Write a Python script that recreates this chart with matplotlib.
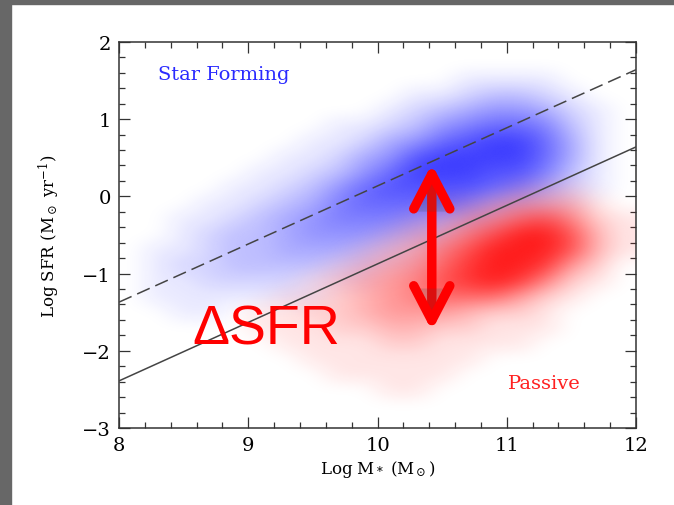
import numpy as np
import matplotlib.pyplot as plt
import matplotlib.patheffects as pe
from matplotlib.colors import to_rgb
from matplotlib.patches import Rectangle
from matplotlib.ticker import MultipleLocator

# cell centres of the point-density maps
mass_bins = [8.1, 8.3, 8.5, 8.7, 8.9, 9.1, 9.3, 9.5, 9.7, 9.9,
             10.1, 10.3, 10.5, 10.7, 10.9, 11.1, 11.3, 11.5, 11.7, 11.9]
sfr_bins = [1.9, 1.7, 1.5, 1.3, 1.1, 0.9, 0.7, 0.5, 0.3, 0.1,
            -0.1, -0.3, -0.5, -0.7, -0.9, -1.1, -1.3, -1.5, -1.7, -1.9,
            -2.1, -2.3, -2.5, -2.7, -2.9]

# relative point density 0 (empty) .. 9 (densest); one string per sfr row, one digit per mass bin
star_forming_density = [
    "00000000000000000000",
    "00000000000000000000",
    "00000000000001111000",
    "00000000000112332100",
    "00000000001234554210",
    "00000000112356776310",
    "00000001124578997410",
    "00000011245899997410",
    "00000112357999886310",
    "00001123578888764210",
    "00011234677776432100",
    "00112345666543211000",
    "00123345554321100000",
    "01123344432110000000",
    "01223333221100000000",
    "01122221110000000000",
    "01111111000000000000",
    "00110000000000000000",
    "00000000000000000000",
    "00000000000000000000",
    "00000000000000000000",
    "00000000000000000000",
    "00000000000000000000",
    "00000000000000000000",
    "00000000000000000000",
]
passive_density = [
    "00000000000000000000",
    "00000000000000000000",
    "00000000000000000000",
    "00000000000000000000",
    "00000000000000000000",
    "00000000000000000000",
    "00000000000000000000",
    "00000000000000000000",
    "00000000000000000000",
    "00000000000000011100",
    "00000000000011233310",
    "00000000000113467521",
    "00000000001235799731",
    "00000000012357999731",
    "00000000123468998420",
    "00000001234578985210",
    "00000011234566642100",
    "00000112234443221000",
    "00000111223322111000",
    "00000011112211110000",
    "00000001111111000000",
    "00000000111110000000",
    "00000000001100000000",
    "00000000000000000000",
    "00000000000000000000",
]

# reference lines, values at log M* = 8 and 12
line_mass = [8.0, 12.0]
main_sequence = [-1.37, 1.64]
sf_cut = [-2.39, 0.64]

# Delta SFR arrow
arrow_mass = 10.42
arrow_sfr = [0.42, -1.74]


def density_image(rows, color, max_alpha):
    d = np.array([[int(c) for c in r] for r in rows], dtype=float) / 9.0
    img = np.zeros(d.shape + (4,))
    img[..., :3] = to_rgb(color)
    img[..., 3] = d * max_alpha
    return img


plt.rcParams["font.family"] = ["DejaVu Serif"]
plt.rcParams["mathtext.fontset"] = "dejavuserif"

fig = plt.figure(figsize=(6.74, 5.06), dpi=100)
fig.patches.append(Rectangle((0, 0.99), 1, 0.02, transform=fig.transFigure,
                             color="#676767", zorder=0))
fig.patches.append(Rectangle((0, 0), 0.0165, 1, transform=fig.transFigure,
                             color="#676767", zorder=0))

ax = fig.add_axes([0.1766, 0.1522, 0.767, 0.763])

half_x = (mass_bins[1] - mass_bins[0]) / 2
half_y = (sfr_bins[0] - sfr_bins[1]) / 2
extent = [mass_bins[0] - half_x, mass_bins[-1] + half_x,
          sfr_bins[-1] - half_y, sfr_bins[0] + half_y]

ax.imshow(density_image(star_forming_density, "#1414ff", 0.82), extent=extent,
          origin="upper", aspect="auto", interpolation="bicubic", zorder=1)
ax.imshow(density_image(passive_density, "#ff1010", 0.95), extent=extent,
          origin="upper", aspect="auto", interpolation="bicubic", zorder=2)

ax.plot(line_mass, main_sequence, color="#444444", lw=1.1, ls=(0, (9, 4)), zorder=3)
ax.plot(line_mass, sf_cut, color="#444444", lw=1.1, zorder=3)

ax.annotate("", xy=(arrow_mass, arrow_sfr[0]), xytext=(arrow_mass, arrow_sfr[1]),
            arrowprops=dict(arrowstyle="<->,head_length=2.5,head_width=1.3",
                            lw=6.8, color="#ff0000", capstyle="round",
                            joinstyle="round", shrinkA=0, shrinkB=0,
                            mutation_scale=10,
                            path_effects=[pe.SimplePatchShadow(offset=(1.5, -2), alpha=0.2),
                                          pe.Normal()]),
            zorder=5)

ax.text(8.57, -1.91, "\u0394SFR", color="#ff0000", fontsize=40,
        family=["Liberation Sans"], va="baseline", ha="left", zorder=6)
ax.text(8.30, 1.585, "Star Forming", color="#2a2aff", fontsize=14,
        va="center", ha="left", zorder=6)
ax.text(11.01, -2.42, "Passive", color="#ff2020", fontsize=14,
        va="center", ha="left", zorder=6)

ax.set_xlim(8, 12)
ax.set_ylim(-3, 2)
ax.xaxis.set_major_locator(MultipleLocator(1))
ax.xaxis.set_minor_locator(MultipleLocator(0.2))
ax.yaxis.set_major_locator(MultipleLocator(1))
ax.yaxis.set_minor_locator(MultipleLocator(0.2))
ax.tick_params(which="both", direction="in", top=True, right=True,
               color="#333333", width=0.9)
ax.tick_params(which="major", length=8, labelsize=14, pad=6)
ax.tick_params(which="minor", length=4.3)
for s in ax.spines.values():
    s.set_color("#333333")
    s.set_linewidth(1.1)

ax.set_xlabel(r"Log M$_*$ (M$_\odot$)", fontsize=12, labelpad=3)
ax.set_ylabel(r"Log SFR (M$_\odot$ yr$^{-1}$)", fontsize=12, labelpad=14)

fig.savefig("out.png", dpi=100)
